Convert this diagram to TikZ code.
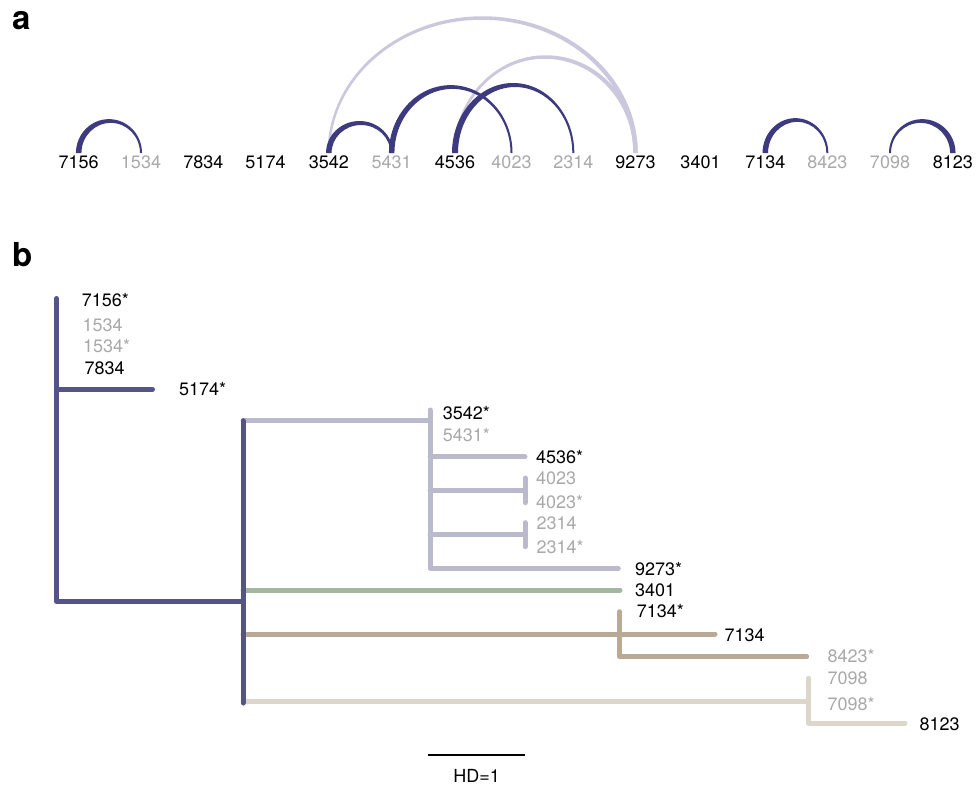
\documentclass[tikz,border=0pt]{standalone}
\usepackage{fontspec}
\setmainfont{TeX Gyre Heros}
\usetikzlibrary{calc}
\definecolor{arcdark}{HTML}{3E3A80}
\definecolor{arclight}{HTML}{CBC8DE}
\definecolor{labgray}{HTML}{A9A9A9}
\definecolor{treedark}{HTML}{55548A}
\definecolor{treelav}{HTML}{BBBACD}
\definecolor{treegreen}{HTML}{A5B7A0}
\definecolor{treebrown}{HTML}{B9AA96}
\definecolor{treebeige}{HTML}{DCD6CB}
% tapered arc: colour, from node, to node, height, width at start, width at end
\newcommand\tarc[6]{%
  \fill[#1] let \p1=(#2), \p2=(#3) in
    ({\x1-0.5*#5*1pt},-153pt)
    arc[start angle=180, end angle=0,
        x radius={0.5*(\x2-\x1)+0.25*(#5+#6)*1pt},
        y radius={(#4+0.25*(#5+#6))*1pt}]
    -- ++({-#6*1pt},0pt)
    arc[start angle=0, end angle=180,
        x radius={0.5*(\x2-\x1)-0.25*(#5+#6)*1pt},
        y radius={(#4-0.25*(#5+#6))*1pt}]
    -- cycle;}
\begin{document}
\begin{tikzpicture}[x=1pt,y=1pt,
  lab/.style={anchor=base,inner sep=0pt,font=\fontsize{18}{20}\selectfont},
  tlab/.style={anchor=base west,inner sep=0pt,font=\fontsize{18}{20}\selectfont},
  panel/.style={anchor=base west,inner sep=0pt,font=\fontsize{33}{36}\selectfont\bfseries},
  br/.style={line width=5pt,line cap=round,line join=round}]
\useasboundingbox (0,0) rectangle (977,-787);

% panel labels
\node[panel] (pa) at (12,-29.3) {a};
\node[panel] (pb) at (12,-266) {b};

% ---------- panel a ----------
\foreach \n/\x/\c in {7156/78.7/black,1534/141/labgray,7834/203.3/black,5174/265.5/black,
  3542/328.8/black,5431/391.7/labgray,4536/455/black,4023/511.5/labgray,2314/573.3/labgray,
  9273/635.5/black,3401/700.5/black,7134/765.3/black,8423/827.3/labgray,7098/890/labgray,8123/952.8/black}
  \node[lab,text=\c] (a\n) at (\x,-168.3) {\n};

\tarc{arclight}{a3542}{a9273}{135}{2.5}{4.5}
\tarc{arclight}{a4536}{a9273}{96}{2.5}{4.5}
\tarc{arcdark}{a7156}{a1534}{32}{5.5}{2}
\tarc{arcdark}{a3542}{a5431}{30}{5.5}{2.5}
\tarc{arcdark}{a5431}{a4023}{66}{5.5}{2}
\tarc{arcdark}{a4536}{a2314}{68}{6}{2}
\tarc{arcdark}{a7134}{a8423}{33}{5.5}{2}
\tarc{arcdark}{a7098}{a8123}{32}{2}{5.5}

% ---------- panel b : labels ----------
\node[tlab] (b7156s) at (81.7,-306.7) {7156*};
\node[tlab,text=labgray] (b1534) at (82.5,-331.7) {1534};
\node[tlab,text=labgray] (b1534s) at (83,-352.7) {1534*};
\node[tlab] (b7834) at (84.5,-374) {7834};
\node[tlab] (b5174s) at (179,-395.7) {5174*};
\node[tlab] (b3542s) at (442.7,-419) {3542*};
\node[tlab,text=labgray] (b5431s) at (442.7,-441.7) {5431*};
\node[tlab] (b4536s) at (536,-463.3) {4536*};
\node[tlab,text=labgray] (b4023) at (536,-484) {4023};
\node[tlab,text=labgray] (b4023s) at (536,-508) {4023*};
\node[tlab,text=labgray] (b2314) at (536.5,-529) {2314};
\node[tlab,text=labgray] (b2314s) at (536.5,-553) {2314*};
\node[tlab] (b9273s) at (635,-575) {9273*};
\node[tlab] (b3401) at (635,-596.7) {3401};
\node[tlab] (b7134s) at (636.7,-617.7) {7134*};
\node[tlab] (b7134) at (724.3,-641) {7134};
\node[tlab,text=labgray] (b8423s) at (827.3,-662.7) {8423*};
\node[tlab,text=labgray] (b7098) at (827.3,-684) {7098};
\node[tlab,text=labgray] (b7098s) at (827.3,-710) {7098*};
\node[tlab] (b8123) at (919.3,-730) {8123};

% ---------- panel b : tree ----------
\coordinate (r1t) at (56.5,-298.5);
\coordinate (r1m) at (56.5,-389.3);
\coordinate (r1b) at (56.5,-601.5);
\coordinate (e5174) at (152.5,-389.3);
\coordinate (r2top) at (243,-420.7);
\coordinate (r2m) at (243,-601.5);
\coordinate (r2green) at (243,-590);
\coordinate (r2brown) at (243,-634);
\coordinate (r2beige) at (243,-701.7);
\coordinate (r2b) at (243,-703);
\coordinate (l1) at (430,-420.7);
\coordinate (lt) at (430,-410);
\coordinate (lb) at (430,-568.3);
\coordinate (e9273) at (618.3,-568.3);
\coordinate (l4536) at (430,-456.7);
\coordinate (e4536) at (525,-456.7);
\coordinate (l4023) at (430,-490);
\coordinate (e4023) at (525,-490);
\coordinate (t4023a) at (525,-478);
\coordinate (t4023b) at (525,-502.7);
\coordinate (l2314) at (430,-534.3);
\coordinate (e2314) at (525,-534.3);
\coordinate (t2314a) at (525,-522.7);
\coordinate (t2314b) at (525,-546.7);
\coordinate (e3401) at (620,-590);
\coordinate (e7134) at (715,-634);
\coordinate (bt) at (619.3,-611.7);
\coordinate (bb) at (619.3,-656.7);
\coordinate (e8423) at (806.7,-656.7);
\coordinate (e7098) at (808.7,-701.7);
\coordinate (gt) at (808.7,-678.3);
\coordinate (gb) at (808.7,-723.3);
\coordinate (e8123) at (905,-723.3);

\draw[br,treelav] (r2top) -- (l1);
\draw[br,treelav] (lt) -- (lb) -- (e9273);
\draw[br,treelav] (l4536) -- (e4536);
\draw[br,treelav] (l4023) -- (e4023);
\draw[br,treelav] (t4023a) -- (t4023b);
\draw[br,treelav] (l2314) -- (e2314);
\draw[br,treelav] (t2314a) -- (t2314b);
\draw[br,treegreen] (r2green) -- (e3401);
\draw[br,treebrown] (r2brown) -- (e7134);
\draw[br,treebrown] (bt) -- (bb) -- (e8423);
\draw[br,treebeige] (r2beige) -- (e7098);
\draw[br,treebeige] (gt) -- (gb) -- (e8123);
\draw[br,treedark] (r1t) -- (r1b) -- (r2m);
\draw[br,treedark] (r1m) -- (e5174);
\draw[br,treedark] (r2top) -- (r2b);

% scale bar
\coordinate (s1) at (428.3,-755);
\coordinate (s2) at (525,-755);
\draw[line width=2pt] (s1) -- (s2);
\node[lab] (hd) at (476.7,-782) {HD=1};
\end{tikzpicture}
\end{document}
